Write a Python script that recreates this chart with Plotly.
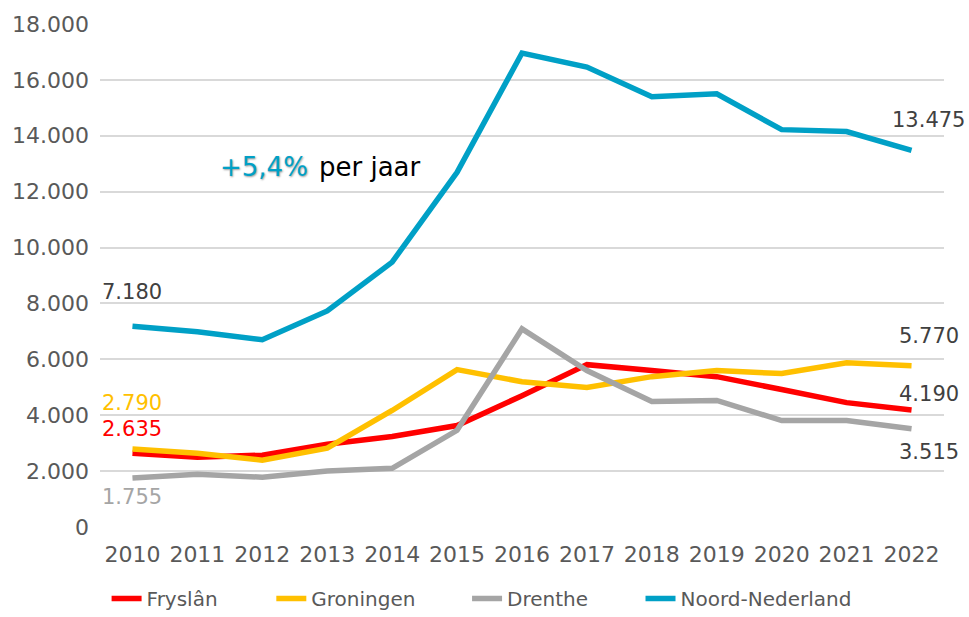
import plotly.graph_objects as go

years = [2010, 2011, 2012, 2013, 2014, 2015, 2016, 2017, 2018, 2019, 2020, 2021, 2022]
frysland = [2635, 2500, 2570, 2960, 3240, 3630, 4700, 5810, 5600, 5380, 4920, 4450, 4190]
groningen = [2790, 2640, 2390, 2820, 4170, 5630, 5200, 4990, 5380, 5600, 5490, 5880, 5770]
drenthe = [1755, 1890, 1780, 2000, 2100, 3460, 7090, 5600, 4490, 4530, 3810, 3810, 3515]
noord = [7180, 6985, 6700, 7730, 9480, 12690, 16960, 16460, 15400, 15500, 14220, 14150, 13475]

# name, values, colour, legend id, legend x (container fraction)
series = [
    ('Fryslân', frysland, '#FF0000', 'legend', 0.110),
    ('Groningen', groningen, '#FFC000', 'legend2', 0.280),
    ('Drenthe', drenthe, '#A5A5A5', 'legend3', 0.482),
    ('Noord-Nederland', noord, '#00A0C6', 'legend4', 0.661),
]

FONT = 'DejaVu Sans'
LABEL = '#404040'
TICK = '#595959'

fig = go.Figure()
for name, vals, col, leg, _ in series:
    fig.add_trace(go.Scatter(
        x=years, y=vals, name=name, mode='lines', legend=leg,
        line=dict(color=col, width=5.5),
    ))


def fmt(v):
    return f'{v:,}'.replace(',', '.')


# start / end value labels (x, y, colour, vertical shift in px)
labels = [
    (years[0], noord[0], LABEL, 34),
    (years[0], groningen[0], '#FFC000', 46),
    (years[0], frysland[0], '#FF0000', 24),
    (years[0], drenthe[0], '#A5A5A5', -19),
    (years[-1], noord[-1], LABEL, 30),
    (years[-1], groningen[-1], LABEL, 30),
    (years[-1], frysland[-1], LABEL, 16),
    (years[-1], drenthe[-1], LABEL, -23),
]
annotations = []
for x, y, c, dy in labels:
    annotations.append(dict(
        x=x, y=y, text=fmt(y), showarrow=False, yshift=dy,
        xshift=(0 if x == years[0] else 17),
        font=dict(family=FONT, size=21, color=c),
    ))

# growth note
annotations.append(dict(
    x=2012.74, y=12900, text='+5,4%', showarrow=False, xanchor='right',
    font=dict(family=FONT, size=26, color='#00A0C6', shadow='1px 1px 2px #9a9a9a'),
))
annotations.append(dict(
    x=2012.84, y=12900, text='per jaar', showarrow=False, xanchor='left',
    font=dict(family=FONT, size=26, color='#000000'),
))

legends = {}
for _, _, _, leg, lx in series:
    legends[leg] = dict(
        orientation='h', xref='container', yref='container',
        x=lx, xanchor='left', y=0.03, yanchor='middle',
        font=dict(size=20, color=TICK), bgcolor='rgba(0,0,0,0)',
    )

fig.update_layout(
    width=969, height=617,
    margin=dict(l=100, r=25, t=22, b=90),
    paper_bgcolor='white', plot_bgcolor='white',
    font=dict(family=FONT, size=19, color=TICK),
    xaxis=dict(
        range=[2009.5, 2022.5], tickmode='array', tickvals=years,
        showgrid=False, zeroline=False, showline=False, ticks='',
        tickfont=dict(size=22, color=TICK), ticklabelstandoff=12,
    ),
    yaxis=dict(
        range=[0, 18000], tickvals=list(range(0, 18001, 2000)),
        ticktext=[fmt(v) for v in range(0, 18001, 2000)],
        showgrid=True, gridcolor='#D9D9D9', gridwidth=1.5,
        zeroline=False, showline=False, ticks='',
        tickfont=dict(size=22, color=TICK), ticklabelstandoff=10,
    ),
    showlegend=True,
    annotations=annotations,
    **legends,
)

fig.write_html('out.html', config={'displayModeBar': False},
               post_script="document.body.style.margin='0';")
